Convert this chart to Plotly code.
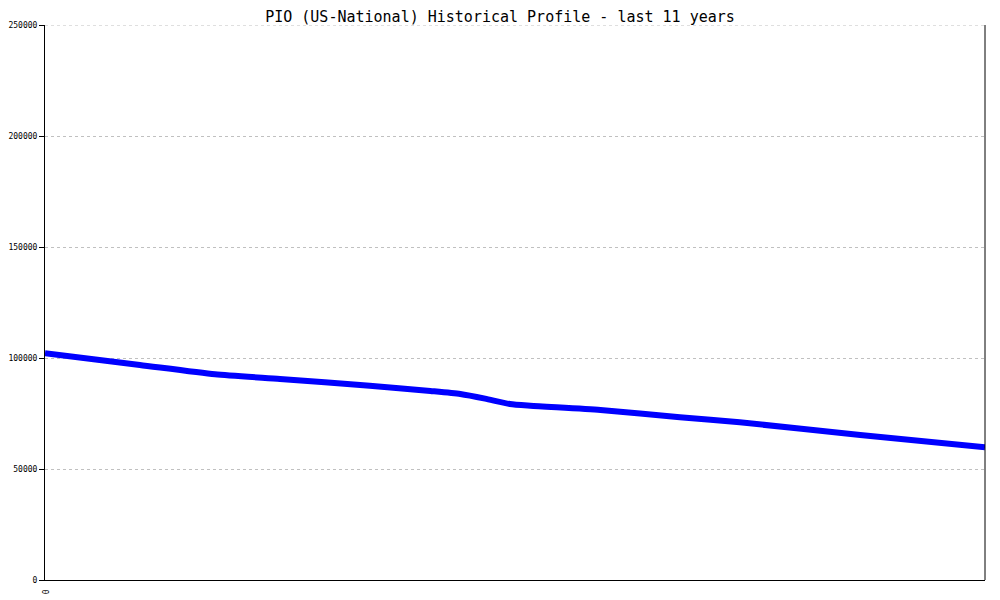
import plotly.graph_objects as go

# Data (x in years from start, value in count)
years = [0.0, 1.11, 1.99, 2.75, 3.80, 4.51, 4.86, 5.15, 5.44, 5.68, 6.50, 7.43, 8.13, 9.54, 11.0]
values = [102100, 96850, 92660, 90540, 87520, 85140, 83780, 81700, 79280, 78510, 76580, 73290, 71040, 65320, 59780]

y_ticks = [0, 50000, 100000, 150000, 200000, 250000]
x_ticks = [0]
x_ticktext = ["0"]

title = "PIO (US-National) Historical Profile - last 11 years"

fig = go.Figure()
fig.add_trace(go.Scatter(
    x=years, y=values, mode="lines",
    line=dict(color="#0000ff", width=6, shape="spline", smoothing=0.6),
    hoverinfo="skip", showlegend=False,
))

# page body adds an 8px offset, margins compensate for it
fig.update_layout(
    width=1000, height=600,
    paper_bgcolor="white", plot_bgcolor="white",
    margin=dict(l=37, r=23, t=17, b=28, autoexpand=False),
    title=dict(text=title, x=(500 - 8) / 1000, xanchor="center", y=1 - 8.5 / 600, yanchor="middle",
               font=dict(family="DejaVu Sans Mono, Liberation Mono, monospace", size=15, color="black")),
    font=dict(family="DejaVu Sans Mono, Liberation Mono, monospace", size=8, color="black"),
)

fig.update_xaxes(
    range=[0, 11], tickvals=x_ticks, ticktext=x_ticktext, tickangle=90,
    showgrid=False, zeroline=False, showline=True, linecolor="black", linewidth=1,
    ticks="outside", ticklen=7, tickcolor="rgba(0,0,0,0)", automargin=False,
    tickfont=dict(size=8, color="black"),
)
fig.update_yaxes(
    range=[0, 250000], tickvals=y_ticks, ticktext=[str(v) for v in y_ticks],
    showgrid=True, gridcolor="#c0c0c0", griddash="dot", gridwidth=1,
    zeroline=False, showline=True, linecolor="black", linewidth=1,
    ticks="outside", ticklen=5, tickcolor="black", automargin=False,
    tickfont=dict(size=8, color="black"),
)

# top gridline at the edge of the plot area and the right border line
fig.add_shape(type="line", xref="paper", yref="y", x0=0, x1=1, y0=y_ticks[-1], y1=y_ticks[-1],
              line=dict(color="#c0c0c0", width=1, dash="dot"), layer="below")
fig.add_shape(type="line", xref="paper", yref="paper", x0=1, x1=1, y0=0, y1=1,
              line=dict(color="black", width=1))

fig.write_html("out.html")
